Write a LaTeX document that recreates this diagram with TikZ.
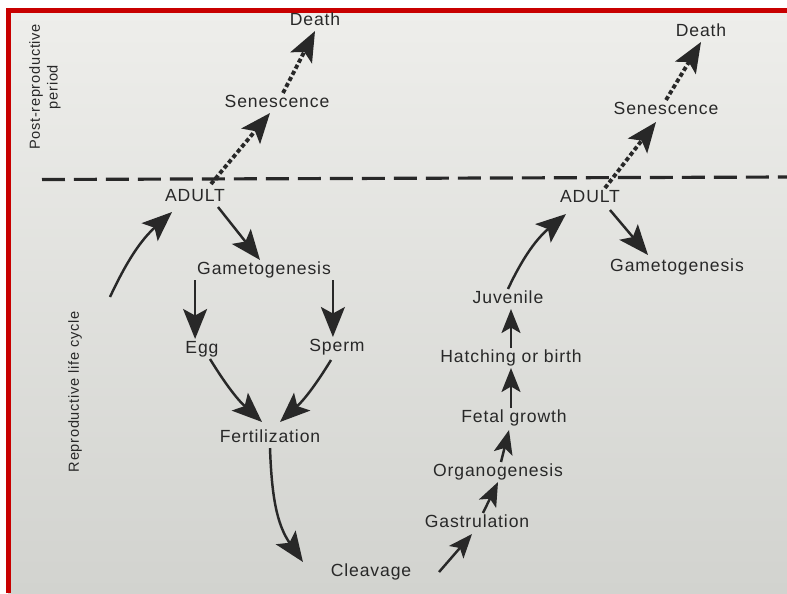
\documentclass[tikz,border=0pt]{standalone}
\usepackage{fontspec}
\setmainfont[LetterSpace=5]{Liberation Sans}
\usepackage{tikz}
\usetikzlibrary{positioning,calc}
\usetikzlibrary{arrows.meta}
\definecolor{InkGray}{RGB}{40,40,40}
\definecolor{PageTop}{RGB}{238,238,235}
\definecolor{PageBot}{RGB}{210,211,207}
\definecolor{FrameRed}{RGB}{200,0,0}
\tikzset{
  lbl/.style={text=InkGray,inner sep=1pt,text height=7pt,text depth=2pt,
    font=\fontsize{10}{12}\selectfont},
  side/.style={text=InkGray,rotate=90,align=center,font=\fontsize{8.3}{10}\selectfont},
  arr/.style={draw=InkGray,line width=1.4pt,-{Stealth[length=6mm,width=4.8mm,inset=1.3mm]}},
  arrs/.style={arr,-{Stealth[length=4.8mm,width=3.8mm,inset=1.1mm]}},
  dotarr/.style={arr,line width=2.2pt,dash pattern=on 2.4pt off 1.5pt},
  divide/.style={draw=InkGray,line width=1.8pt,dash pattern=on 4.6mm off 1.8mm},
}

\begin{document}
\begin{tikzpicture}[x=0.02cm,y=-0.02cm]
\useasboundingbox (0,0) rectangle (787,593);
\fill[top color=PageTop,bottom color=PageBot] (8,10) rectangle (787,593);
\draw[FrameRed,line width=1mm] (8.5,593) -- (8.5,10.5) -- (787,10.5);

% side labels and period divider
\node[side] (post) at (45,87) {Post-reproductive\\period};
\node[side] (repro) at (75,392) {Reproductive life cycle};
\draw[divide] (42,179.5) -- (787,177);

% sexual side
\node[lbl] (deathL) at (315,21) {Death};
\node[lbl] (senL) at (277,103) {Senescence};
\node[lbl] (adultL) at (195,197) {ADULT};
\node[lbl] (gametoL) at (264,270) {Gametogenesis};
\node[lbl] (egg) at (202,349) {Egg};
\node[lbl] (sperm) at (337,347) {Sperm};
\node[lbl] (fert) at (270,438) {Fertilization};
\node[lbl,inner xsep=0.55cm] (clv) at (371,572) {Cleavage};
\coordinate (cyc) at (110,297);

% development side
\node[lbl] (gastr) at (477,523) {Gastrulation};
\node[lbl] (organo) at (498,472) {Organogenesis};
\node[lbl] (fetal) at (514,418) {Fetal growth};
\node[lbl] (hatch) at (511,358) {Hatching or birth};
\node[lbl] (juv) at (508,299) {Juvenile};
\node[lbl] (adultR) at (590,198) {ADULT};
\node[lbl] (gametoR) at (677,267) {Gametogenesis};
\node[lbl] (senR) at (666,110) {Senescence};
\node[lbl] (deathR) at (701,32) {Death};

% post-reproductive arrows
\draw[dotarr] ([shift={(16,-3)}]adultL.north) -- ([shift={(-7,0)}]senL.south);
\draw[dotarr] ([shift={(6,0)}]senL.north) -- (deathL.south);
\draw[dotarr] ([shift={(15,0)}]adultR.north) -- ([shift={(-10,2)}]senR.south);
\draw[dotarr] (senR.north) -- (deathR.south);

% the cycle
\draw[arr] (cyc) to[out=65,in=-138] ([shift={(-23,5)}]adultL.south);
\draw[arr] ([shift={(23,0)}]adultL.south) -- ([shift={(-4,0)}]gametoL.north);
\draw[arr] (gametoL.south west) -- (gametoL.south west |- egg.north);
\draw[arr] (gametoL.south east) -- (gametoL.south east |- sperm.north);
\draw[arr] ([shift={(8,0)}]egg.south) to[bend right=8] ([shift={(-8,-6)}]fert.north);
\draw[arr] ([shift={(-6,3)}]sperm.south) to[bend left=8] ([shift={(10,-6)}]fert.north);
\draw[arr] (fert.south) to[out=-88,in=125] (clv.north west);
\draw[arrs] (clv.east) -- ([shift={(-5,1)}]gastr.south);
\draw[arrs] ([shift={(6,0)}]gastr.north) -- (organo.south);
\draw[arrs] ([shift={(3,0)}]organo.north) -- ([shift={(-5,2)}]fetal.south);
\draw[arrs] (hatch.south |- fetal.north) -- (hatch.south);
\draw[arrs] (hatch.north) -- (hatch.north |- juv.south);
\draw[arr] (juv.north) to[out=65,in=-140] ([shift={(-24,6)}]adultR.south);
\draw[arr] ([shift={(20,2)}]adultR.south) -- ([shift={(-29,-2)}]gametoR.north);
\end{tikzpicture}
\end{document}
